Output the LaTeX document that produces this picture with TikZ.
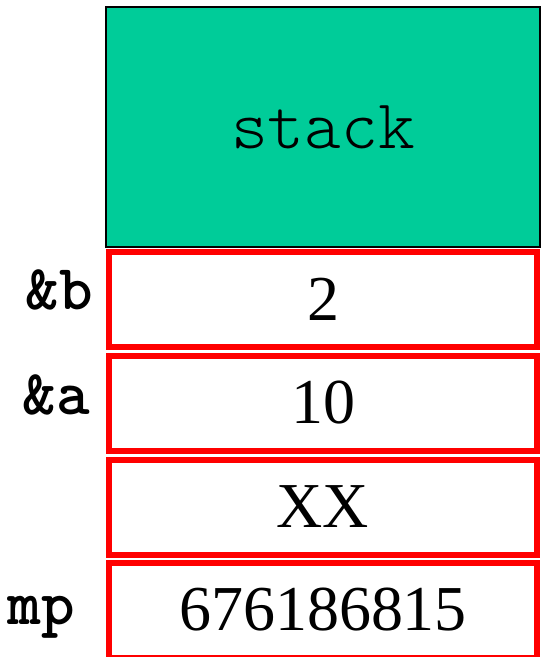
\documentclass[tikz,border=0pt]{standalone}
\usepackage{fontspec}
\setmainfont{Liberation Serif}
\setmonofont{lmmonolt10-regular.otf}[BoldFont=lmmonolt10-bold.otf]
\usetikzlibrary{positioning}
\definecolor{stackgreen}{RGB}{0,204,153}

\begin{document}
\begin{tikzpicture}[x=1pt,y=1pt,node distance=104pt,on grid,
		cell/.style={draw=red,line width=6pt,minimum width=428pt,minimum height=95pt,
			inner sep=0pt,font=\fontsize{64}{70}\selectfont},
		lbl/.style={anchor=base east,inner sep=0pt,font=\fontsize{64}{70}\selectfont\ttfamily\bfseries}]
	\useasboundingbox (0,0) rectangle (542,-657);
	\node[draw=black,line width=2pt,fill=stackgreen,minimum width=434pt,minimum height=240pt,
		font=\fontsize{70}{76}\selectfont\ttfamily] (stack) at (323,-127) {stack};
	
	\node[cell] (b)   [below=172pt of stack] {2};
	\node[cell] (a)   [below=of b]           {10};
	\node[cell] (ret) [below=of a]           {XX};
	\node[cell] (tmp) [below=103pt of ret]   {676186815};
	
	\node[lbl] (lb)   at ([xshift=-13pt,yshift=-10pt]b.west)   {\&b};
	\node[lbl] (la)   at ([xshift=-16pt,yshift=-11pt]a.west)   {\&a};
	\node[lbl] (ltmp) at ([xshift=-31pt,yshift=-14pt]tmp.west) {mp};
\end{tikzpicture}
\end{document}
